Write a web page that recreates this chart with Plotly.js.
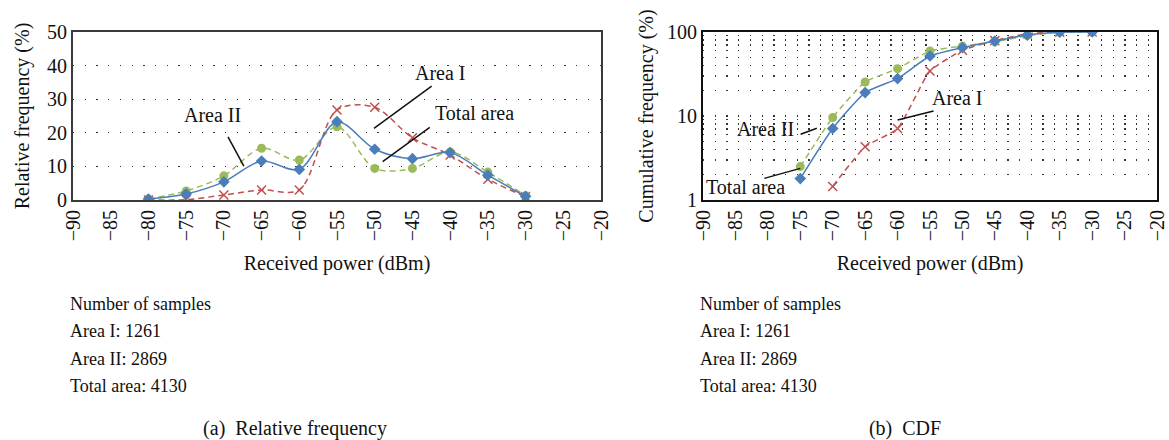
<!DOCTYPE html>
<html>
<head>
<meta charset="utf-8">
<script src="https://cdn.plot.ly/plotly-3.0.1.min.js"></script>
<style>
  html, body { margin: 0; padding: 0; background: #ffffff; }
  body { position: relative; width: 1169px; height: 440px; overflow: hidden;
         font-family: 'Liberation Serif', 'Times New Roman', serif; color: #111; }
  #chart { position: absolute; left: 0; top: 0; width: 1169px; height: 440px; }
  svg text { font-family: 'Liberation Serif', 'Times New Roman', serif !important; }
  .samples { position: absolute; top: 291px; font-size: 18px; line-height: 27.3px; white-space: nowrap; z-index: 2; }
  .caption { position: absolute; top: 415px; width: 300px; font-size: 20px; line-height: 26px;
             text-align: center; white-space: pre; z-index: 2; }
</style>
</head>
<body>
<div id="samplesA" class="samples" style="left:70px"></div>
<div id="samplesB" class="samples" style="left:700px"></div>
<div id="captionA" class="caption" style="left:145px"></div>
<div id="captionB" class="caption" style="left:755px"></div>
<div id="chart"></div>
<script>
// Received power bins (dBm)
const powerBins = [-80, -75, -70, -65, -60, -55, -50, -45, -40, -35, -30];

// Relative frequency (%) per bin
const relTotal  = [0.3, 1.8, 5.4, 11.6, 9.1, 23.3, 15.1, 12.3, 14.1, 7.4, 1.1];
const relAreaII = [0.3, 2.7, 7.2, 15.4, 11.9, 21.8, 9.4, 9.4, 14.3, 8.3, 1.3];
const relAreaI  = [0.0, 0.1, 1.5, 3.0, 3.0, 26.8, 27.6, 18.5, 13.4, 6.2, 1.0];

// Cumulative frequency (%) per bin
const cdfBinsTotal  = [-75, -70, -65, -60, -55, -50, -45, -40, -35, -30];
const cdfTotal      = [1.8, 7.1, 19.0, 27.9, 51.8, 65.0, 78.0, 92.0, 99.5, 100];
const cdfBinsAreaII = [-75, -70, -65, -60, -55, -50, -45, -40, -35, -30];
const cdfAreaII     = [2.5, 9.6, 25.4, 36.6, 59.4, 68.0, 76.5, 90.5, 99.5, 100];
const cdfBinsAreaI  = [-70, -65, -60, -55, -50, -45, -40, -35, -30];
const cdfAreaI      = [1.45, 4.3, 7.1, 34.3, 60.5, 79.0, 95.5, 99.6, 100];

// Axis ticks
const powerTicks = [-90, -85, -80, -75, -70, -65, -60, -55, -50, -45, -40, -35, -30, -25, -20];
const logGridVals = [1, 2, 3, 4, 5, 6, 7, 8, 9, 10, 20, 30, 40, 50, 60, 70, 80, 90, 100];
const logGridText = ['1', '', '', '', '', '', '', '', '', '10', '', '', '', '', '', '', '', '', '100'];

// Sample counts shown under each panel, and panel captions
const sampleLines = ['Number of samples', 'Area I: 1261', 'Area II: 2869', 'Total area: 4130'];
const captionA = '(a)  Relative frequency';
const captionB = '(b)  CDF';

const BLUE = '#4a7ebb';
const GREEN = '#9bbb59';
const RED = '#c0504d';
const SERIF = 'Liberation Serif';

const W = 1169, H = 440;
const px = v => v / W;
const py = v => 1 - v / H;

// Text blocks below the panels
['samplesA', 'samplesB'].forEach(function (id) {
  const box = document.getElementById(id);
  sampleLines.forEach(function (line) {
    const d = document.createElement('div');
    d.textContent = line;
    box.appendChild(d);
  });
});
document.getElementById('captionA').textContent = captionA;
document.getElementById('captionB').textContent = captionB;

function series(x, y, name, color, dash, symbol, size, xa, ya, smoothing) {
  const isX = symbol.indexOf('x') === 0;
  return {
    x: x, y: y, name: name, type: 'scatter', mode: 'lines+markers',
    xaxis: xa, yaxis: ya,
    line: { color: color, width: 1.5, dash: dash, shape: 'spline', smoothing: smoothing },
    marker: isX
      ? { symbol: symbol, size: size, color: color, line: { color: color, width: 1.5 } }
      : { symbol: symbol, size: size, color: color },
    showlegend: false, hoverinfo: 'x+y+name'
  };
}

const traces = [
  series(powerBins, relAreaI,  'Area I',     RED,   '6px,4px', 'x-thin-open', 9, 'x', 'y', 0.9),
  series(powerBins, relAreaII, 'Area II',    GREEN, '6px,4px', 'circle', 9, 'x', 'y', 0.9),
  series(powerBins, relTotal,  'Total area', BLUE,  'solid', 'diamond', 9, 'x', 'y', 0.9),
  series(cdfBinsAreaI,  cdfAreaI,  'Area I',     RED,   '6px,4px', 'x-thin-open', 9, 'x2', 'y2', 0.5),
  series(cdfBinsAreaII, cdfAreaII, 'Area II',    GREEN, '6px,4px', 'circle', 9, 'x2', 'y2', 0.5),
  series(cdfBinsTotal,  cdfTotal,  'Total area', BLUE,  'solid', 'diamond', 9, 'x2', 'y2', 0.5)
];

const tickFont = { family: SERIF, size: 20, color: '#111' };
const titleFont = { family: SERIF, size: 20, color: '#111' };

function xAxis(domain, anchor, lineColor) {
  return {
    domain: domain, anchor: anchor,
    range: [-90, -20], tickvals: powerTicks, tickangle: -90,
    ticks: '', showgrid: false, zeroline: false, ticklabeloverflow: 'allow',
    showline: true, mirror: true, linecolor: lineColor, linewidth: 2,
    tickfont: tickFont,
    title: { text: 'Received power (dBm)', font: titleFont, standoff: 16 },
    fixedrange: true
  };
}

const dotGrid = { showgrid: true, gridcolor: '#333', gridwidth: 1.3, griddash: '1.3px,10.4px' };

const layout = {
  width: W, height: H,
  margin: { l: 0, r: 0, t: 0, b: 0 },
  paper_bgcolor: 'rgba(0,0,0,0)', plot_bgcolor: '#ffffff',
  font: { family: SERIF, color: '#111' },
  xaxis: xAxis([px(73), px(601)], 'y', '#3a3a3a'),
  yaxis: Object.assign({
    domain: [py(200), py(32)], anchor: 'x',
    range: [0, 50], dtick: 10, ticks: '', zeroline: false,
    showline: true, mirror: true, linecolor: '#3a3a3a', linewidth: 2,
    tickfont: tickFont,
    title: { text: 'Relative frequency (%)', font: titleFont, standoff: 12 },
    fixedrange: true
  }, dotGrid),
  xaxis2: xAxis([px(703), px(1157)], 'y2', '#111'),
  yaxis2: Object.assign({
    domain: [py(200), py(32)], anchor: 'x2',
    type: 'log', range: [0, 2], tickvals: logGridVals, ticktext: logGridText,
    ticks: '', zeroline: false,
    showline: true, mirror: true, linecolor: '#111', linewidth: 2,
    tickfont: tickFont,
    title: { text: 'Cumulative frequency (%)', font: titleFont, standoff: 8 },
    fixedrange: true
  }, dotGrid),
  shapes: [],
  annotations: []
};

// Series labels with leader lines
function label(text, xa, ya, x, y) {
  layout.annotations.push({
    text: text, xref: xa, yref: ya, x: x, y: y, showarrow: false,
    xanchor: 'center', yanchor: 'middle',
    font: { family: SERIF, size: 20, color: '#111' }
  });
}
function leader(xa, ya, x0, y0, x1, y1) {
  layout.shapes.push({
    type: 'line', xref: xa, yref: ya, x0: x0, y0: y0, x1: x1, y1: y1,
    line: { color: '#111', width: 1.5 }
  });
}

// Relative frequency panel
label('Area II', 'x', 'y', -71.5, 25.3);
leader('x', 'y', -69.45, 18.8, -67.35, 10.1);
label('Area I', 'x', 'y', -41.3, 37.9);
leader('x', 'y', -42.45, 33.9, -50.1, 21.3);
label('Total area', 'x', 'y', -36.8, 25.9);
leader('x', 'y', -42.7, 21.6, -48.95, 11.4);

// CDF panel (annotation y is log10 on a log axis, shape y is the value)
label('Area II', 'x2', 'y2', -80.4, Math.log10(6.95));
leader('x2', 'y2', -74.95, 6.06, -72.45, 7.14);
label('Total area', 'x2', 'y2', -83.5, Math.log10(1.42));
leader('x2', 'y2', -80.55, 1.81, -75.0, 2.38);
label('Area I', 'x2', 'y2', -50.7, Math.log10(16.2));
leader('x2', 'y2', -60.0, 8.96, -54.45, 11.5);

function draw() {
  Plotly.newPlot('chart', traces, layout, { displayModeBar: false, staticPlot: true });
}

// Lay out the HTML text first so the serif face is in use before Plotly measures its labels
void document.body.offsetWidth;
if (document.fonts && document.fonts.ready) {
  document.fonts.ready.then(draw, draw);
} else {
  draw();
}
</script>
</body>
</html>
